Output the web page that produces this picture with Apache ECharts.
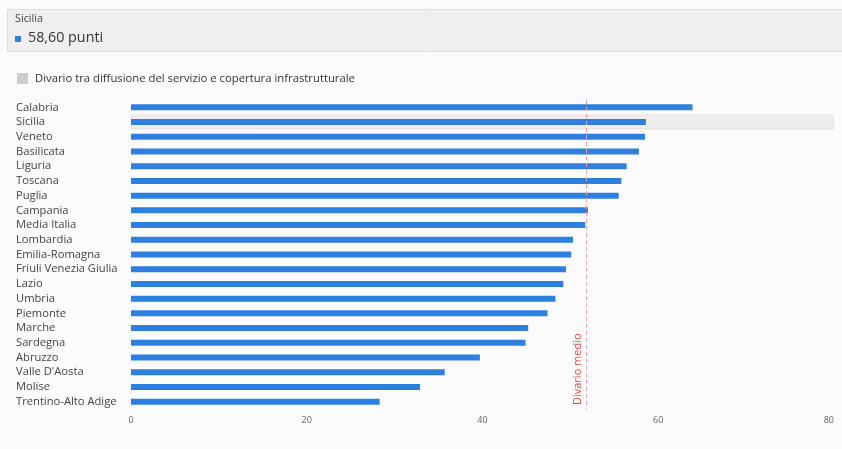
<!DOCTYPE html>
<html>
<head>
<meta charset="utf-8">
<script src="https://cdn.jsdelivr.net/npm/echarts@6/dist/echarts.min.js"></script>
<style>
  html, body { margin: 0; padding: 0; background: #fbfbfb; }
  #chart { width: 842px; height: 449px; }
</style>
</head>
<body>
<div id="chart"></div>
<script>
// Regions, ordered by gap between service uptake and infrastructure coverage
const categories = [
  'Calabria', 'Sicilia', 'Veneto', 'Basilicata', 'Liguria', 'Toscana', 'Puglia',
  'Campania', 'Media Italia', 'Lombardia', 'Emilia-Romagna', 'Friuli Venezia Giulia',
  'Lazio', 'Umbria', 'Piemonte', 'Marche', 'Sardegna', 'Abruzzo', "Valle D'Aosta",
  'Molise', 'Trentino-Alto Adige'
];
const values = [
  63.9, 58.6, 58.5, 57.8, 56.4, 55.8, 55.5,
  52.0, 51.7, 50.3, 50.1, 49.5,
  49.2, 48.3, 47.4, 45.2, 44.9, 39.7, 35.7,
  32.9, 28.3
];
const seriesName = 'Divario tra diffusione del servizio e copertura infrastrutturale';
const divarioMedio = 51.8;
const divarioLabel = 'Divario medio';
const xTicks = { min: 0, max: 80, interval: 20 };
const selected = 'Sicilia';

const FONT = '"Open Sans", "Noto Sans", sans-serif';
const selValue = values[categories.indexOf(selected)];
const selLabel = selValue.toFixed(2).replace('.', ',') + ' punti';

const GRID = { left: 131, right: 8, top: 100, bottom: 40 };

const chart = echarts.init(document.getElementById('chart'));
chart.setOption({
  animation: false,
  backgroundColor: '#fbfbfb',
  textStyle: { fontFamily: FONT },
  grid: Object.assign({ containLabel: false }, GRID),
  legend: {
    left: 12, top: 68,
    icon: 'rect', itemWidth: 11, itemHeight: 11, itemGap: 7,
    selectedMode: false,
    textStyle: { fontSize: 11.3, color: '#333', fontFamily: FONT, padding: [0, 0, 0, 2] },
    data: [{ name: seriesName, itemStyle: { color: '#cccccc' } }]
  },
  graphic: [
    {
      id: 'panel', type: 'rect', left: 7, top: 9, silent: true,
      shape: { width: 840, height: 42 },
      style: { fill: '#efefef', stroke: '#dddddd', lineWidth: 1 }
    },
    {
      id: 'panelTitle', type: 'text', left: 15, top: 13, silent: true,
      style: { text: selected, fontSize: 10.8, fill: '#444', fontFamily: FONT }
    },
    {
      id: 'panelMarker', type: 'rect', left: 15, top: 36, silent: true,
      shape: { width: 6, height: 6 },
      style: { fill: '#2f7ed8' }
    },
    {
      id: 'panelValue', type: 'text', left: 28, top: 31, silent: true,
      style: { text: selLabel, fontSize: 14.3, fill: '#333', fontFamily: FONT }
    }
  ],
  xAxis: {
    type: 'value',
    min: xTicks.min, max: xTicks.max, interval: xTicks.interval,
    axisLine: { show: false }, axisTick: { show: false },
    splitLine: { show: false },
    axisLabel: { color: '#666', fontSize: 9, margin: 7, alignMaxLabel: 'right', fontFamily: FONT }
  },
  yAxis: [
    {
      type: 'category', data: categories, inverse: true,
      axisLine: { show: false }, axisTick: { show: false },
      axisLabel: { align: 'left', margin: 115, color: '#444', fontSize: 11.2, fontFamily: FONT }
    },
    {
      type: 'category', data: categories, inverse: true, show: false
    }
  ],
  series: [
    {
      name: 'highlight',
      type: 'bar', yAxisIndex: 1, silent: true,
      barWidth: '100%',
      itemStyle: { color: '#eeeeee', borderColor: '#e2e2e2', borderWidth: 1 },
      data: categories.map(c => (c === selected ? xTicks.max : '-')),
      z: 1
    },
    {
      name: seriesName,
      type: 'bar', yAxisIndex: 0,
      barWidth: 6,
      itemStyle: { color: '#2d7fe0' },
      data: values,
      z: 2,
      markLine: {
        silent: true,
        symbol: 'none',
        lineStyle: { type: [4, 3], color: '#eaa3a6', width: 1 },
        label: { show: false },
        data: [{ xAxis: divarioMedio }]
      }
    }
  ]
});

// Vertical caption beside the average line, reading bottom to top
const lineX = chart.convertToPixel({ xAxisIndex: 0 }, divarioMedio);
const plotBottom = chart.getHeight() - GRID.bottom;
chart.setOption({
  graphic: [{
    id: 'divarioCaption', type: 'text', silent: true,
    x: lineX - 8, y: plotBottom - 4,
    rotation: Math.PI / 2,
    style: {
      text: divarioLabel, fontSize: 11, fill: '#e0474c', fontFamily: FONT,
      align: 'left', verticalAlign: 'middle'
    }
  }]
});
</script>
</body>
</html>
